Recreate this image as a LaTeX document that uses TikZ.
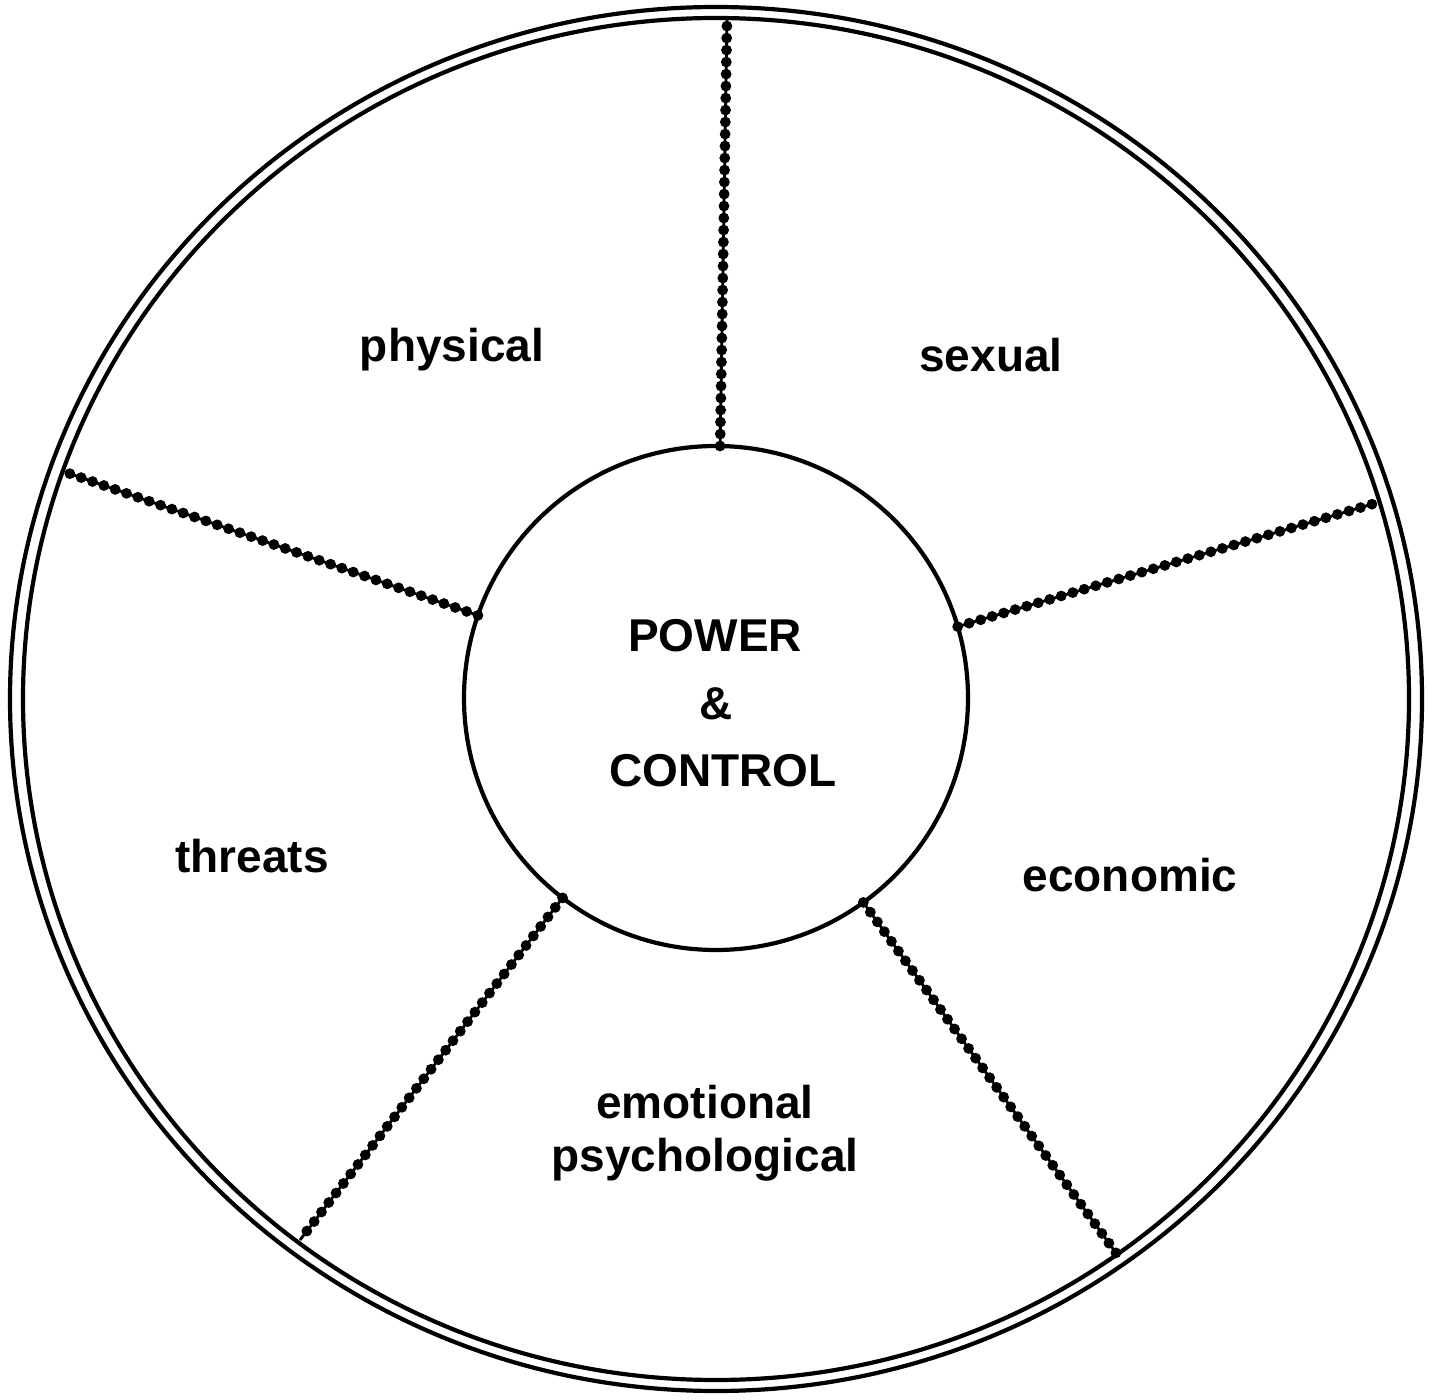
\documentclass[tikz,border=0pt]{standalone}
\usepackage{fontspec}
\setmainfont{Liberation Sans}
\begin{document}
\begin{tikzpicture}[x=0.5pt, y=-0.5pt,
  ring/.style={line width=2.1pt},
  hubstyle/.style={circle, draw, line width=2.1pt, minimum size=252pt, inner sep=0pt, outer sep=0pt},
  spokecore/.style={line width=1.4pt},
  spokebeads/.style={line width=5.4pt, line cap=round, dash pattern=on 0pt off 6pt},
  lbl/.style={font=\bfseries\fontsize{23}{27}\selectfont, anchor=base, inner sep=0pt}]
  \useasboundingbox (0,0) rectangle (1430,1400);

  % double outer rim
  \coordinate (c) at (716,699);
  \draw[ring] (c) ellipse [x radius=353pt, y radius=346pt];
  \draw[ring] (c) ellipse [x radius=346.5pt, y radius=340.5pt];

  % centre disc
  \node[hubstyle] (hub) at (716,698) {};

  % spoke ends on the inner rim
  \coordinate (s1) at (727,20);
  \coordinate (s2) at (65,472);
  \coordinate (s3) at (1376,503);
  \coordinate (s4) at (300,1240);
  \coordinate (s5) at (1116,1253);

  \foreach \s in {s1,s2,s3,s4,s5} {
    \draw[spokecore] (hub) -- (\s);
    \draw[spokebeads] (hub) -- (\s);
  }

  % labels
  \node[lbl] (pw1) at (715,652) {POWER};
  \node[lbl] (pw2) at (716,720) {\&};
  \node[lbl] (pw3) at (723,787) {CONTROL};

  \node[lbl] (phys) at (452,362) {physical};
  \node[lbl] (sex)  at (991,372) {sexual};
  \node[lbl] (thr)  at (252,872) {threats};
  \node[lbl] (eco)  at (1130,892) {economic};
  \node[lbl] (emo1) at (705,1118) {emotional};
  \node[lbl] (emo2) at (705,1171) {psychological};
\end{tikzpicture}
\end{document}
